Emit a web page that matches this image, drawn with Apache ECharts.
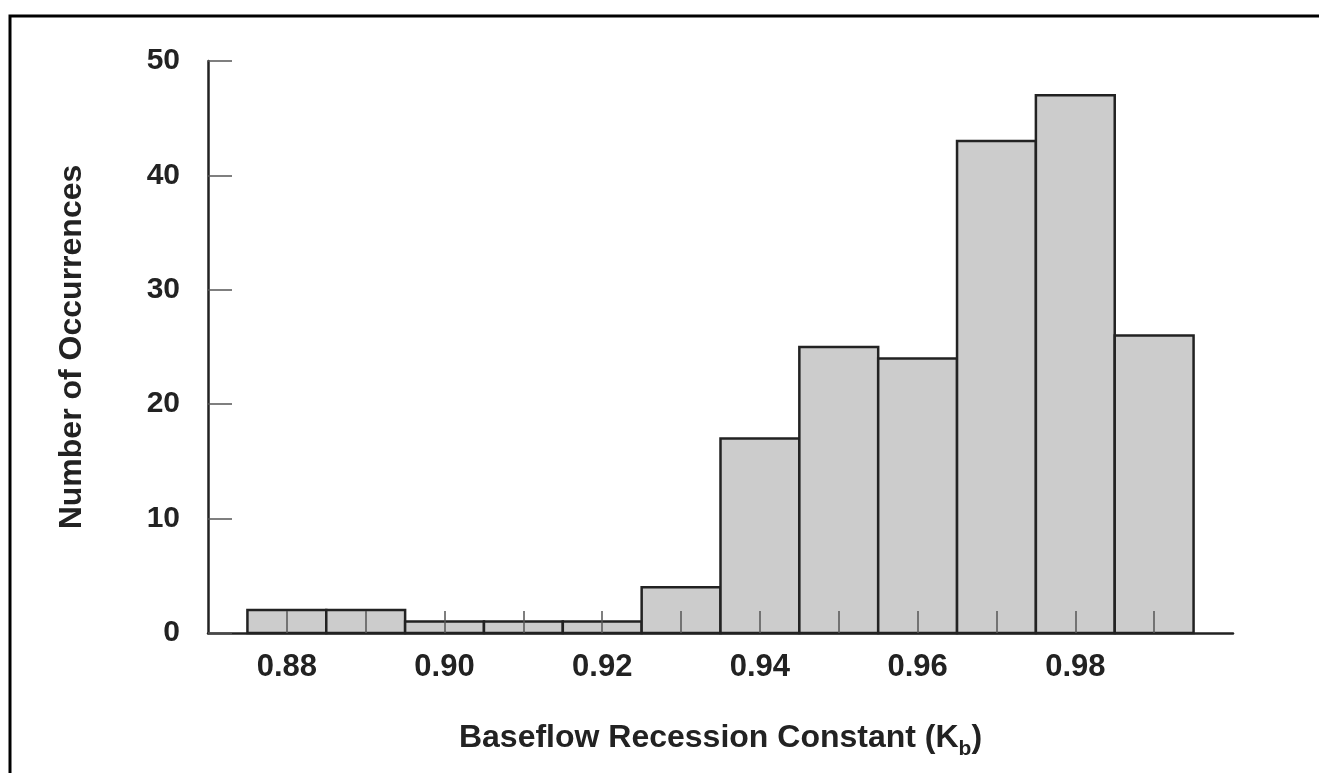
<!DOCTYPE html>
<html>
<head>
<meta charset="utf-8">
<script src="https://cdn.jsdelivr.net/npm/echarts@6/dist/echarts.min.js"></script>
<style>
  html, body { margin: 0; padding: 0; background: #fff; }
  #chart { width: 1319px; height: 773px; }
</style>
</head>
<body>
<div id="chart"></div>
<script>
// bin centres (Kb) and counts
var binCenters = [0.88, 0.89, 0.90, 0.91, 0.92, 0.93, 0.94, 0.95, 0.96, 0.97, 0.98, 0.99];
var counts = [2, 2, 1, 1, 1, 4, 17, 25, 24, 43, 47, 26];
var binWidth = 0.01;
var xLabelValues = [0.88, 0.90, 0.92, 0.94, 0.96, 0.98];

var font = 'Liberation Sans, Arial, sans-serif';
var ink = '#222';

var chart = echarts.init(document.getElementById('chart'));

var data = binCenters.map(function (c, i) { return [c, counts[i]]; });

chart.setOption({
  backgroundColor: '#fff',
  animation: false,
  grid: { left: 208, right: 86, top: 61, bottom: 140 },
  graphic: [
    {
      type: 'rect',
      shape: { x: 10, y: 16, width: 1400, height: 900 },
      style: { fill: 'none', stroke: '#000', lineWidth: 3 },
      silent: true
    }
  ],
  xAxis: {
    type: 'value',
    min: 0.87,
    max: 1.0,
    interval: 0.01,
    z: 10,
    splitLine: { show: false },
    axisLine: { lineStyle: { color: ink, width: 2.5 } },
    axisTick: { inside: true, length: 22, lineStyle: { color: '#555', width: 1.5 } },
    axisLabel: {
      margin: 19,
      color: ink,
      fontFamily: font,
      fontWeight: 'bold',
      fontSize: 31,
      showMinLabel: false,
      showMaxLabel: false,
      formatter: function (v) {
        var hit = xLabelValues.some(function (t) { return Math.abs(t - v) < 1e-6; });
        return hit ? v.toFixed(2) : '';
      }
    },
    name: 'Baseflow Recession Constant (K{sub|b})',
    nameLocation: 'middle',
    nameGap: 84,
    nameTextStyle: {
      color: ink,
      fontFamily: font,
      fontWeight: 'bold',
      fontSize: 32,
      rich: {
        sub: {
          color: ink,
          fontFamily: font,
          fontWeight: 'bold',
          fontSize: 21,
          padding: [22, 0, 0, 0]
        }
      }
    }
  },
  yAxis: {
    type: 'value',
    min: 0,
    max: 50,
    interval: 10,
    z: 10,
    splitLine: { show: false },
    axisLine: { show: true, lineStyle: { color: ink, width: 2.5 } },
    axisTick: { show: true, inside: true, length: 24, lineStyle: { color: '#555', width: 1.5 } },
    axisLabel: {
      margin: 28,
      color: ink,
      fontFamily: font,
      fontWeight: 'bold',
      fontSize: 30
    },
    name: 'Number of Occurrences',
    nameLocation: 'middle',
    nameGap: 120,
    nameTextStyle: {
      color: ink,
      fontFamily: font,
      fontWeight: 'bold',
      fontSize: 32
    }
  },
  series: [
    {
      type: 'custom',
      data: data,
      z: 2,
      renderItem: function (params, api) {
        var c = api.value(0);
        var n = api.value(1);
        var p0 = api.coord([c - binWidth / 2, n]);
        var p1 = api.coord([c + binWidth / 2, 0]);
        return {
          type: 'rect',
          shape: { x: p0[0], y: p0[1], width: p1[0] - p0[0], height: p1[1] - p0[1] },
          style: { fill: '#cccccc', stroke: ink, lineWidth: 2.5 }
        };
      }
    }
  ]
});
</script>
</body>
</html>
